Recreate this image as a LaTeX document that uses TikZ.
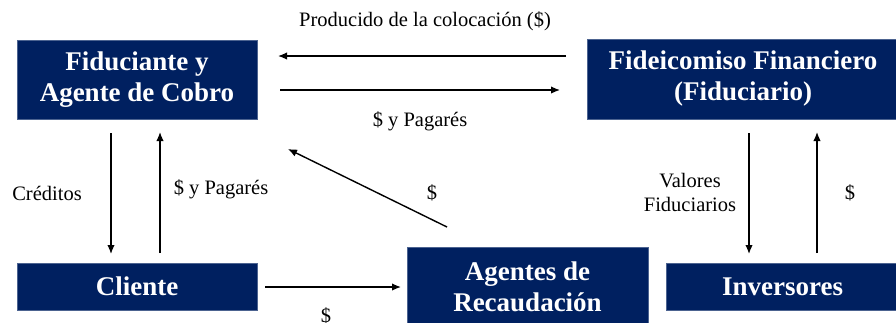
\documentclass[tikz,border=0pt]{standalone}
\usepackage{fontspec}
\setmainfont{Liberation Serif}
\usetikzlibrary{arrows.meta}
\definecolor{navy}{RGB}{0,32,96}
\tikzset{
  box/.style={fill=navy, draw=navy!70!white, line width=0.6pt, text=white, font=\fontsize{27}{31}\selectfont\bfseries, align=center, inner sep=0pt},
  lbl/.style={font=\fontsize{20.5}{24}\selectfont, align=center, inner sep=0pt},
  arr/.style={line width=1.4pt, -{Latex[length=9pt,width=7.5pt]}}
}
\begin{document}
\begin{tikzpicture}[x=1pt,y=-1pt]
\useasboundingbox (0,0) rectangle (896,322);
\node[box, minimum width=240pt, minimum height=79pt] (fid) at (137,79.5) {Fiduciante y\\Agente de Cobro};
\node[box, minimum width=312pt, minimum height=80pt] (ff) at (743,79) {Fideicomiso Financiero\\(Fiduciario)};
\node[box, minimum width=240pt, minimum height=47pt] (cli) at (137,286.5) {Cliente};
\node[box, minimum width=241pt, minimum height=80pt] (age) at (527.5,287) {Agentes de\\Recaudación};
\node[box, minimum width=233pt, minimum height=47pt] (inv) at (782.5,286.5) {Inversores};

\coordinate (a1s) at (566,56); \coordinate (a1e) at (278,56);
\coordinate (a2s) at (280,90); \coordinate (a2e) at (560,90);
\coordinate (a3s) at (111,133); \coordinate (a3e) at (111,254);
\coordinate (a4s) at (160,253); \coordinate (a4e) at (160,132);
\coordinate (a5s) at (447,227); \coordinate (a5e) at (288,149);
\coordinate (a6s) at (265,287); \coordinate (a6e) at (401,287);
\coordinate (a7s) at (749,133); \coordinate (a7e) at (749,254);
\coordinate (a8s) at (817,253); \coordinate (a8e) at (817,132);

\draw[arr] (a1s) -- (a1e);
\draw[arr] (a2s) -- (a2e);
\draw[arr] (a3s) -- (a3e);
\draw[arr] (a4s) -- (a4e);
\draw[arr] (a5s) -- (a5e);
\draw[arr] (a6s) -- (a6e);
\draw[arr] (a7s) -- (a7e);
\draw[arr] (a8s) -- (a8e);

\node[lbl] (l1) at (425,21) {Producido de la colocación (\$)};
\node[lbl] (l2) at (420,121) {\$ y Pagarés};
\node[lbl] (l3) at (47,193) {Créditos};
\node[lbl] (l4) at (221,189) {\$ y Pagarés};
\node[lbl] (l5) at (432,193) {\$};
\node[lbl] (l6) at (326,316) {\$};
\node[lbl] (l7) at (690,192) {Valores\\Fiduciarios};
\node[lbl] (l8) at (850,193) {\$};
\end{tikzpicture}
\end{document}
